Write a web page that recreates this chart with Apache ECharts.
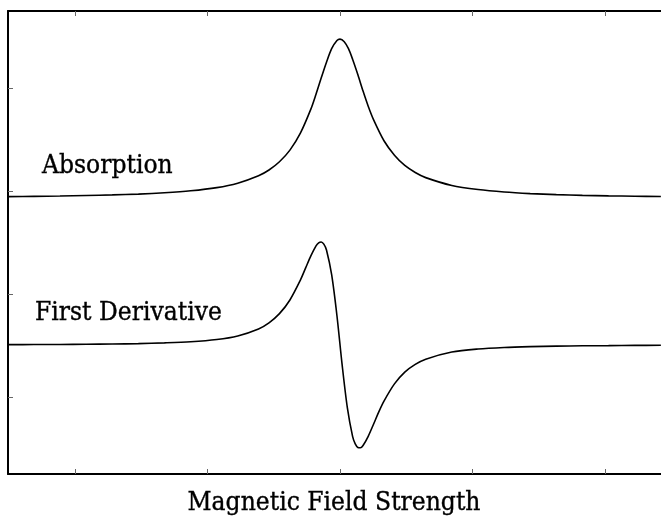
<!DOCTYPE html>
<html>
<head>
<meta charset="utf-8">
<script src="https://cdn.jsdelivr.net/npm/echarts@6/dist/echarts.min.js"></script>
<style>
  html, body { margin: 0; padding: 0; background: #fff; }
  #chart { width: 661px; height: 516px; }
</style>
</head>
<body>
<div id="chart"></div>
<script>
// Field positions (arbitrary units, one unit per tick; resonance centre at 3)
const absorptionX = [0.494, 0.690, 0.886, 1.084, 1.281, 1.478, 1.675, 1.873, 2.070, 2.228, 2.385, 2.464, 2.543, 2.622, 2.701, 2.780, 2.819, 2.858, 2.898, 2.937, 2.977, 3.000, 3.032, 3.064, 3.095, 3.135, 3.174, 3.213, 3.253, 3.332, 3.411, 3.489, 3.568, 3.647, 3.844, 4.042, 4.239, 4.436, 4.633, 4.830, 5.027, 5.225, 5.422];
const absorptionY = [1.945, 1.948, 1.951, 1.956, 1.962, 1.970, 1.983, 2.002, 2.033, 2.076, 2.148, 2.204, 2.284, 2.397, 2.562, 2.795, 2.940, 3.097, 3.251, 3.382, 3.461, 3.475, 3.450, 3.382, 3.280, 3.129, 2.970, 2.823, 2.693, 2.488, 2.347, 2.248, 2.180, 2.130, 2.054, 2.014, 1.990, 1.975, 1.965, 1.958, 1.953, 1.949, 1.946];

const derivativeX = [0.494, 0.690, 0.886, 1.084, 1.281, 1.478, 1.675, 1.873, 2.070, 2.228, 2.385, 2.464, 2.543, 2.622, 2.701, 2.740, 2.780, 2.819, 2.839, 2.858, 2.878, 2.898, 2.937, 2.977, 3.016, 3.056, 3.095, 3.115, 3.135, 3.154, 3.174, 3.213, 3.253, 3.292, 3.332, 3.411, 3.489, 3.568, 3.647, 3.844, 4.042, 4.239, 4.436, 4.633, 4.830, 5.027, 5.225, 5.422];
const derivativeY = [0.508, 0.509, 0.510, 0.512, 0.514, 0.518, 0.525, 0.536, 0.558, 0.593, 0.661, 0.720, 0.809, 0.942, 1.135, 1.251, 1.370, 1.468, 1.497, 1.505, 1.484, 1.427, 1.187, 0.789, 0.314, -0.109, -0.383, -0.456, -0.490, -0.493, -0.471, -0.382, -0.265, -0.147, -0.040, 0.127, 0.241, 0.316, 0.367, 0.436, 0.466, 0.481, 0.489, 0.494, 0.497, 0.499, 0.501, 0.502];

const xTicks = [1, 2, 3, 4, 5];
const yTicks = [0, 1, 2, 3];

const curveLabels = ['Absorption', 'First Derivative'];
const axisTitle = 'Magnetic Field Strength';

function pairs(xs, ys) { return xs.map((x, i) => [x, ys[i]]); }

const chart = echarts.init(document.getElementById('chart'), null, { renderer: 'canvas' });
const serif = '"DejaVu Serif", "Liberation Serif", serif';
const labelFont = '23.5px ' + serif;

const xAxisBase = {
  type: 'value', min: 0.494, max: 5.423, gridIndex: 0,
  axisLine: { show: true, onZero: false, lineStyle: { color: '#000', width: 2 } },
  axisTick: { show: true, inside: true, length: 5, customValues: xTicks, lineStyle: { color: '#666', width: 1 } },
  axisLabel: { show: false },
  splitLine: { show: false }
};

function label(text, x, y, align) {
  return {
    type: 'text', x: x, y: y, scaleY: 1.13, silent: true,
    style: {
      text: text, font: labelFont, fill: '#000',
      stroke: '#000', lineWidth: 0.35,
      align: align, verticalAlign: 'middle'
    }
  };
}

chart.setOption({
  animation: false,
  backgroundColor: '#fff',
  grid: { left: 8, right: 0, top: 11, bottom: 42, containLabel: false },
  xAxis: [
    Object.assign({}, xAxisBase, { position: 'bottom' }),
    Object.assign({}, xAxisBase, { position: 'top' })
  ],
  yAxis: {
    type: 'value', min: -0.748, max: 3.748,
    axisLine: { show: true, onZero: false, lineStyle: { color: '#000', width: 2 } },
    axisTick: { show: true, inside: true, length: 5, customValues: yTicks, lineStyle: { color: '#666', width: 1 } },
    axisLabel: { show: false },
    splitLine: { show: false }
  },
  series: [
    {
      name: curveLabels[0], type: 'line', xAxisIndex: 0, showSymbol: false, smooth: 0.3,
      lineStyle: { color: '#000', width: 1.6 }, data: pairs(absorptionX, absorptionY)
    },
    {
      name: curveLabels[1], type: 'line', xAxisIndex: 0, showSymbol: false, smooth: 0.3,
      lineStyle: { color: '#000', width: 1.6 }, data: pairs(derivativeX, derivativeY)
    }
  ],
  graphic: [
    label(curveLabels[0], 42, 166, 'left'),
    label(curveLabels[1], 35, 313.5, 'left'),
    label(axisTitle, 334, 503.5, 'center')
  ]
});
</script>
</body>
</html>
